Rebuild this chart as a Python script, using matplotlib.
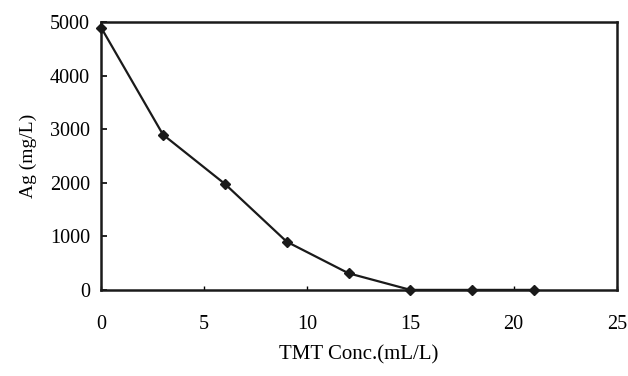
import matplotlib
matplotlib.use('Agg')
import matplotlib.pyplot as plt

plt.rcParams['font.family'] = ['Liberation Serif', 'DejaVu Serif']

# Данные: концентрация TMT и остаточное Ag
tmt_conc = [0, 3, 6, 9, 12, 15, 18, 21]
ag_conc = [4900, 2900, 1980, 900, 310, 0, 0, 0]

x_ticks = [0, 5, 10, 15, 20, 25]
y_ticks = [0, 1000, 2000, 3000, 4000, 5000]

fig = plt.figure(figsize=(6.28, 3.76), dpi=100, facecolor='white')
ax = fig.add_axes([0.161, 0.229, 0.821, 0.712])

ax.plot(tmt_conc, ag_conc, color='#1a1a1a', linewidth=1.6,
        marker='D', markersize=5, markerfacecolor='#1a1a1a', clip_on=False)

ax.set_xlim(0, 25)
ax.set_ylim(0, 5000)
ax.set_xticks(x_ticks)
ax.set_yticks(y_ticks)

for side in ['left', 'right', 'top', 'bottom']:
    ax.spines[side].set_linewidth(1.8)
    ax.spines[side].set_color('#1a1a1a')

ax.tick_params(axis='y', direction='in', length=4, width=1.2, pad=8, labelsize=14.5)
ax.tick_params(axis='x', direction='in', length=3, width=1.0, pad=18, labelsize=14.5)

ax.set_xlabel('TMT Conc.(mL/L)', fontsize=15, labelpad=8)
ax.set_ylabel('Ag (mg/L)', fontsize=14, labelpad=9)

plt.savefig('out.png', dpi=100, facecolor='white')
